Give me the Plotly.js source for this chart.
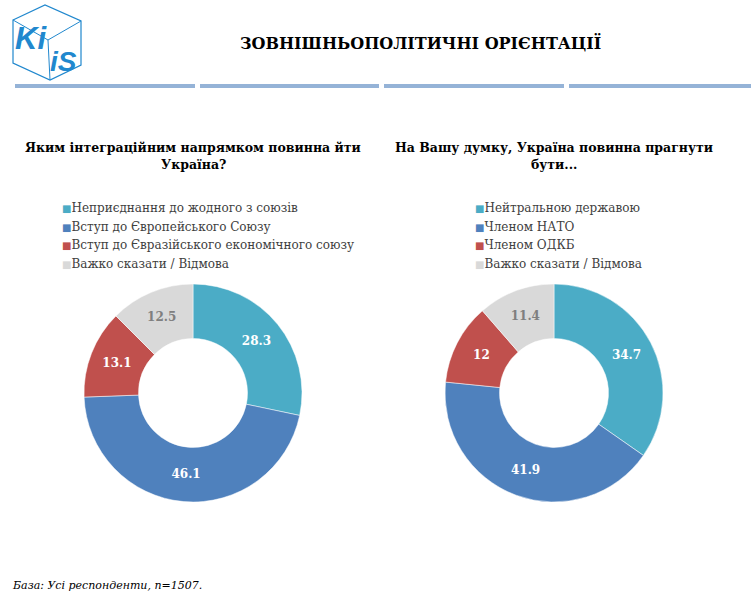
<!DOCTYPE html>
<html>
<head>
<meta charset="utf-8">
<script src="https://cdn.plot.ly/plotly-3.0.1.min.js"></script>
<style>
  html, body { margin: 0; padding: 0; background: #fff; }
  #chart { width: 751px; height: 597px; }
</style>
</head>
<body>
<div id="chart"></div>
<script>
// data
var leftLabels = ["Неприєднання до жодного з союзів", "Вступ до Європейського Союзу",
  "Вступ до Євразійського економічного союзу", "Важко сказати / Відмова"];
var leftValues = [28.3, 46.1, 13.1, 12.5];

var rightLabels = ["Нейтральною державою", "Членом НАТО", "Членом ОДКБ", "Важко сказати / Відмова"];
var rightValues = [34.7, 41.9, 12, 11.4];

var sliceColors = ["#4BACC6", "#4F81BD", "#C0504D", "#D9D9D9"];
var labelColors = ["#ffffff", "#ffffff", "#ffffff", "#7F7F7F"];

var W = 751, H = 597;
// pixel -> paper helpers
function px(x) { return x / W; }
function py(y) { return 1 - y / H; }

var serif = "DejaVu Serif, Liberation Serif, serif";

function donut(values, labels, cx, cy, r) {
  return {
    type: "pie",
    values: values,
    labels: labels,
    sort: false,
    direction: "clockwise",
    rotation: 0,
    hole: 0.5,
    marker: { colors: sliceColors, line: { color: "#ffffff", width: 0.5 } },
    textinfo: "value",
    textposition: "inside",
    insidetextorientation: "horizontal",
    textfont: { family: serif, size: 12, color: labelColors, weight: "bold" },
    domain: { x: [px(cx - r), px(cx + r)], y: [py(cy + r), py(cy - r)] },
    showlegend: false,
    hoverinfo: "label+value"
  };
}

var data = [
  donut(leftValues, leftLabels, 193, 393, 109),
  donut(rightValues, rightLabels, 554, 393, 109)
];

var annotations = [];
function note(text, x, y, size, opts) {
  var a = {
    text: text, xref: "paper", yref: "paper", x: px(x), y: py(y),
    xanchor: "center", yanchor: "middle", showarrow: false,
    font: { family: serif, size: size, color: "#000000" }
  };
  for (var k in opts) a[k] = opts[k];
  annotations.push(a);
}

note("<b>ЗОВНІШНЬОПОЛІТИЧНІ ОРІЄНТАЦІЇ</b>", 420, 43, 16);
note("<b>Яким інтеграційним напрямком повинна йти</b>", 193, 147, 12.5);
note("<b>Україна?</b>", 193, 165, 12.5);
note("<b>На Вашу думку, Україна повинна прагнути</b>", 554, 147, 12.5);
note("<b>бути...</b>", 554, 165, 12.5);
note("<i>База: Усі респонденти, n=1507.</i>", 10, 585, 11, { xanchor: "left" });

// legends built from the label arrays
function legendRows(labels, x0) {
  var rowY = [208, 227, 245, 264];
  labels.forEach(function (lab, i) {
    note('<span style="color:' + sliceColors[i] + ';font-size:10px">■</span>' + lab, x0, rowY[i], 12,
      { xanchor: "left", font: { family: serif, size: 12, color: "#404040" } });
  });
}
legendRows(leftLabels, 60);
legendRows(rightLabels, 473);

// logo lettering
var logoFont = "Liberation Sans, Arial, sans-serif";
note("<b><i>Ki</i></b>", 31, 38, 31, { font: { family: logoFont, size: 31, color: "#2188CE" } });
note("<b><i>iS</i></b>", 63, 62, 28, { font: { family: logoFont, size: 28, color: "#2188CE" } });

var shapes = [];
// header rule, four segments
[[15, 195], [200, 379], [384, 564], [569, 751]].forEach(function (s) {
  shapes.push({ type: "rect", xref: "paper", yref: "paper",
    x0: px(s[0]), x1: px(s[1]), y0: py(88), y1: py(84),
    fillcolor: "#95B3D7", line: { width: 0 } });
});

// logo cube outline
function path(pts, close) {
  var d = pts.map(function (p, i) {
    return (i ? "L" : "M") + px(p[0]).toFixed(5) + "," + py(p[1]).toFixed(5);
  }).join(" ");
  return close ? d + " Z" : d;
}
shapes.push({ type: "path", xref: "paper", yref: "paper",
  path: path([[13, 20], [45, 5], [81, 21], [81, 65], [50, 80], [13, 63]], true),
  line: { color: "#2188CE", width: 1.2 } });
[[13, 20], [81, 21], [50, 80]].forEach(function (p) {
  shapes.push({ type: "path", xref: "paper", yref: "paper",
    path: path([[48, 40], p], false), line: { color: "#2188CE", width: 1 } });
});

var layout = {
  width: W,
  height: H,
  margin: { l: 0, r: 0, t: 0, b: 0 },
  paper_bgcolor: "#ffffff",
  plot_bgcolor: "#ffffff",
  annotations: annotations,
  shapes: shapes
};

Plotly.newPlot("chart", data, layout, { displayModeBar: false, staticPlot: true });
</script>
</body>
</html>
